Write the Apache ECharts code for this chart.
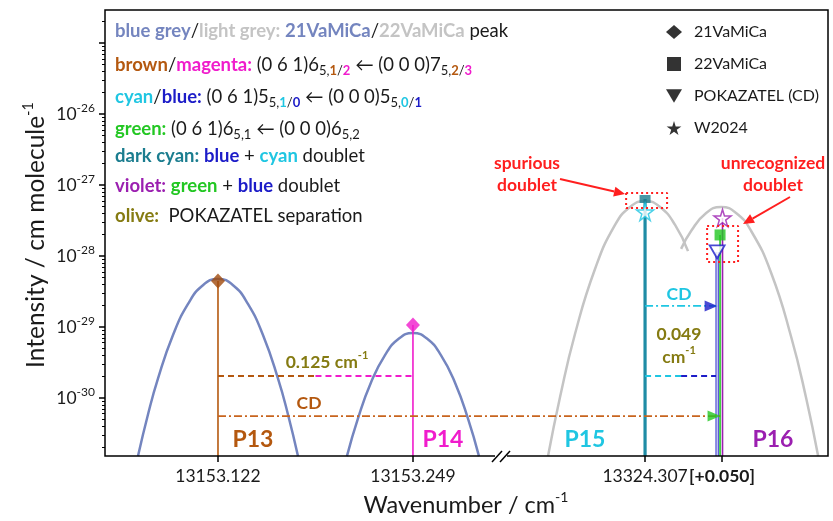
<!DOCTYPE html>
<html>
<head>
<meta charset="utf-8">
<script src="https://cdn.jsdelivr.net/npm/echarts@6/dist/echarts.min.js"></script>
<style>
html, body { margin: 0; padding: 0; background: #fff; }
#chart { width: 833px; height: 521px; }
</style>
</head>
<body>
<div id="chart"></div>
<script>
// ---------- axis ticks ----------
const leftTicks = [13153.122, 13153.249];
const leftTickLabels = ['13153.122', '13153.249'];
const rightTicks = [13324.307, 13324.357];
const rightTickLabels = ['13324.307', '[+0.050]'];
const decadeExponents = [-30, -29, -28, -27, -26, -25];
const labelledExponents = [-30, -29, -28, -27, -26];

// ---------- peak profiles [wavenumber, intensity] ----------
const p13Profile = [
  [13153.0699, 1.52e-31], [13153.0764, 5.86e-31], [13153.0829, 1.87e-30],
  [13153.0927, 7.71e-30], [13153.1025, 2.11e-29], [13153.1122, 3.88e-29],
  [13153.1220, 4.74e-29],
  [13153.1318, 3.88e-29], [13153.1415, 2.11e-29], [13153.1513, 7.71e-30],
  [13153.1611, 1.87e-30], [13153.1676, 5.86e-31], [13153.1741, 1.52e-31]
];
const p14Profile = [
  [13153.2060, 1.52e-31], [13153.2132, 5.16e-31], [13153.2216, 1.64e-30],
  [13153.2308, 4.02e-30], [13153.2399, 6.89e-30],
  [13153.2490, 8.22e-30],
  [13153.2581, 6.89e-30], [13153.2672, 4.02e-30], [13153.2764, 1.64e-30],
  [13153.2848, 5.16e-31], [13153.2920, 1.52e-31]
];
const p15Profile = [
  [13324.2440, 1.52e-31], [13324.2518, 1.03e-30], [13324.2615, 7.96e-30],
  [13324.2745, 6.57e-29], [13324.2875, 2.74e-28], [13324.2973, 4.90e-28],
  [13324.3070, 5.96e-28],
  [13324.3167, 4.90e-28], [13324.3265, 2.74e-28], [13324.3349, 1.17e-28]
];
const p16Profile = [
  [13324.3304, 1.26e-28], [13324.3369, 2.25e-28], [13324.3467, 4.04e-28],
  [13324.3564, 4.90e-28],
  [13324.3661, 4.04e-28], [13324.3759, 2.25e-28], [13324.3889, 5.77e-29],
  [13324.4019, 7.23e-30], [13324.4116, 1.00e-30], [13324.4194, 1.52e-31]
];

// ---------- line positions and intensities ----------
const vamica21 = [[13153.122, 4.45e-29], [13153.249, 1.07e-29]];   // P13, P14
const vamica22 = [[13324.307, 6.35e-28], [13324.3557, 1.98e-28]];  // P15, P16
const pokazatel = [[13324.3538, 1.14e-28]];                         // P16
const w2024 = [[13324.307, 4.17e-28], [13324.3573, 3.43e-28]];     // P15, P16

// ---------- separation / CD guide levels ----------
const separationLevel = 2.04e-30;
const cdLevelP13 = 5.57e-31;
const cdLevelP15 = 1.98e-29;

// ---------- doublet boxes [[x0, yTop], [x1, yBottom]] ----------
const doubletBoxes = [
  [[13324.2947, 7.71e-28], [13324.3213, 4.74e-28]],
  [[13324.3473, 2.65e-28], [13324.3674, 8.22e-29]]
];

// ---------- layout ----------
const X1 = [13153.0484, 13153.3057];
const X2 = [13324.2128, 13324.4258];
const Y = [1.524e-31, 2.917e-25];
const FRAME = { x: 105, y: 10, w: 723, h: 446 };
const SPLIT = 500;

const FONT = 'Lato, "Open Sans", sans-serif';
const C = {
  blueGrey: '#7485bf', lightGrey: '#c4c4c4', brown: '#b4580f', brownDark: '#a04a0c',
  magenta: '#f01ccc', cyan: '#1fc6e2', blue: '#1c1cc8', green: '#22c722',
  darkCyan: '#1b7d8f', violet: '#9b1fb0', olive: '#857b12', red: '#ff1f1f', ink: '#1a1a1a'
};
const STAR = 'path://M50,0 L61,35 L98,35 L68,57 L79,91 L50,70 L21,91 L32,57 L2,35 L39,35 Z';
const TRI_DOWN = 'path://M0,0 L20,0 L10,17 Z';
const SQUARE = 'path://M0,0 L10,0 L10,10 L0,10 Z';

// sub-decade tick positions (exponent units, drawn on a companion value axis)
const minorExponents = [];
for (let e = -31; e <= -25; e++) {
  for (let m = 2; m <= 9; m++) {
    const v = e + Math.log10(m);
    if (v > Math.log10(Y[0]) && v < Math.log10(Y[1])) minorExponents.push(v);
  }
}

// ---------- series ----------
const series = [];
function addLine(grid, data, color, width, type, z, smooth) {
  series.push({
    type: 'line', xAxisIndex: grid, yAxisIndex: grid === 0 ? 0 : 3,
    data: data, symbol: 'none', smooth: !!smooth, silent: true,
    lineStyle: { color: color, width: width, type: type || 'solid' }, z: z || 3
  });
}
const floor = (x) => [x, Y[0]];

// peak profiles
addLine(0, p13Profile, C.blueGrey, 2.5, 'solid', 2, true);
addLine(0, p14Profile, C.blueGrey, 2.5, 'solid', 2, true);
addLine(1, p15Profile, C.lightGrey, 2.5, 'solid', 2, true);
addLine(1, p16Profile, C.lightGrey, 2.5, 'solid', 2, true);

// sticks
addLine(0, [vamica21[0], floor(vamica21[0][0])], C.brown, 1.6);
addLine(0, [vamica21[1], floor(vamica21[1][0])], C.magenta, 1.6);
addLine(1, [vamica22[0], floor(vamica22[0][0])], '#1f8ca5', 3.2);
addLine(1, [pokazatel[0], floor(pokazatel[0][0])], C.blue, 3.2);
addLine(1, [pokazatel[0], floor(pokazatel[0][0])], '#ffffff', 1.2, 'solid', 3.1);
addLine(1, [vamica22[1], floor(vamica22[1][0])], C.green, 1.6);
addLine(1, [w2024[1], floor(w2024[1][0])], C.violet, 1.6);

// separation between P13 and P14
const midLeft = (vamica21[0][0] + vamica21[1][0]) / 2;
addLine(0, [[vamica21[0][0], separationLevel], [midLeft, separationLevel]], C.brown, 2, [6, 4]);
addLine(0, [[midLeft, separationLevel], [vamica21[1][0], separationLevel]], C.magenta, 2, [6, 4]);
// separation between P15 and P16 (POKAZATEL)
const midRight = (vamica22[0][0] + pokazatel[0][0]) / 2;
addLine(1, [[vamica22[0][0], separationLevel], [midRight, separationLevel]], C.cyan, 2, [6, 4]);
addLine(1, [[midRight, separationLevel], [pokazatel[0][0], separationLevel]], C.blue, 2, [6, 4]);

// CD guides
const dashDot = [8, 3, 2, 3];
addLine(0, [[vamica21[0][0], cdLevelP13], [X1[1], cdLevelP13]], '#c8641e', 1.8, dashDot);
addLine(1, [[X2[0], cdLevelP13], [vamica22[1][0], cdLevelP13]], '#c8641e', 1.8, dashDot);
addLine(1, [[vamica22[0][0], cdLevelP15], [pokazatel[0][0], cdLevelP15]], C.cyan, 1.8, dashDot);

// dotted boxes around the doublets
doubletBoxes.forEach(b => {
  const x0 = b[0][0], y0 = b[0][1], x1 = b[1][0], y1 = b[1][1];
  addLine(1, [[x0, y0], [x1, y0], [x1, y1], [x0, y1], [x0, y0]], C.red, 2, [2, 3], 8);
});

// arrow heads at the end of the CD guides
series.push({
  type: 'scatter', xAxisIndex: 1, yAxisIndex: 3, silent: true, z: 6,
  symbol: 'triangle', symbolSize: [11, 13], symbolRotate: -90, symbolOffset: [-6, 0],
  data: [
    { value: [vamica22[1][0], cdLevelP13], itemStyle: { color: C.green } },
    { value: [pokazatel[0][0], cdLevelP15], itemStyle: { color: C.blue } }
  ]
});

// markers
series.push({
  name: '21VaMiCa', type: 'scatter', xAxisIndex: 0, yAxisIndex: 0, silent: true, z: 6,
  symbol: 'diamond', symbolSize: [14, 15],
  data: [
    { value: vamica21[0], itemStyle: { color: C.brownDark } },
    { value: vamica21[1], itemStyle: { color: C.magenta } }
  ]
});
series.push({
  name: '22VaMiCa', type: 'scatter', xAxisIndex: 1, yAxisIndex: 3, silent: true, z: 6,
  symbol: 'rect',
  data: [
    { value: vamica22[0], symbolSize: [11, 8], itemStyle: { color: C.darkCyan } },
    { value: vamica22[1], symbolSize: [11, 11], itemStyle: { color: C.green } }
  ]
});
series.push({
  name: 'POKAZATEL (CD)', type: 'scatter', xAxisIndex: 1, yAxisIndex: 3, silent: true, z: 6,
  symbol: TRI_DOWN, symbolSize: [15, 13],
  itemStyle: { color: '#ffffff', borderColor: C.blue, borderWidth: 1.8 },
  data: pokazatel
});
series.push({
  name: 'W2024', type: 'scatter', xAxisIndex: 1, yAxisIndex: 3, silent: true, z: 7,
  symbol: STAR, symbolSize: 17,
  data: [
    { value: w2024[0], itemStyle: { color: '#ffffff', borderColor: C.cyan, borderWidth: 1.5 } },
    { value: w2024[1], itemStyle: { color: '#ffffff', borderColor: C.violet, borderWidth: 1.5 } }
  ]
});

// ---------- text helpers ----------
function bold(color, size, lh) {
  return { fill: color, color: color, fontSize: size || 16, fontWeight: 'bold', fontFamily: FONT, lineHeight: lh || 24 };
}
function plain(color, size, lh) {
  return { fill: color, color: color, fontSize: size || 16, fontFamily: FONT, lineHeight: lh || 24 };
}
function sub(color, isBold) {
  return { fill: color, color: color, fontSize: 13, fontWeight: isBold ? 'bold' : 'normal', fontFamily: FONT,
           lineHeight: 13, verticalAlign: 'bottom' };
}
function sup(color, size, isBold) {
  return { fill: color, color: color, fontSize: size || 11, fontWeight: isBold ? 'bold' : 'normal', fontFamily: FONT,
           lineHeight: size || 11, verticalAlign: 'top' };
}
const LS = 18.5;
const legendRich = {
  n: plain(C.ink, LS), bg: bold(C.blueGrey, LS), lg: bold(C.lightGrey, LS), br: bold(C.brown, LS), mg: bold(C.magenta, LS),
  cy: bold(C.cyan, LS), bl: bold(C.blue, LS), gr: bold(C.green, LS), dc: bold(C.darkCyan, LS), vi: bold(C.violet, LS),
  ol: bold(C.olive, LS),
  sn: sub(C.ink), sbr: sub(C.brown, true), smg: sub(C.magenta, true), scy: sub(C.cyan, true), sbl: sub(C.blue, true)
};
const rt = (frags) => frags.map(f => '{' + f[0] + '|' + f[1] + '}').join('');
function text(x, y, str, rich, align, extra) {
  return Object.assign({
    type: 'text', x: x, y: y, z: 20, silent: true,
    style: {
      text: str, rich: rich, font: '16px ' + FONT, fill: C.ink,
      align: align || 'left', verticalAlign: 'middle',
      textAlign: align || 'left', textVerticalAlign: 'middle'
    }
  }, extra || {});
}
function arrow(x0, y0, x1, y1, color) {
  const dx = x1 - x0, dy = y1 - y0, L = Math.hypot(dx, dy), ux = dx / L, uy = dy / L;
  const hl = 11, hw = 5;
  const bx = x1 - ux * hl, by = y1 - uy * hl;
  return [
    { type: 'line', z: 20, silent: true, shape: { x1: x0, y1: y0, x2: bx, y2: by }, style: { stroke: color, lineWidth: 2 } },
    { type: 'polygon', z: 20, silent: true,
      shape: { points: [[x1, y1], [bx - uy * hw, by + ux * hw], [bx + uy * hw, by - ux * hw]] }, style: { fill: color } }
  ];
}

const legendLines = [
  [['bg', 'blue grey'], ['n', '/'], ['lg', 'light grey:'], ['n', ' '], ['bg', '21VaMiCa'], ['n', '/'], ['lg', '22VaMiCa'], ['n', ' peak']],
  [['br', 'brown'], ['n', '/'], ['mg', 'magenta:'], ['n', ' (0 6 1)6'], ['sn', '5,'], ['sbr', '1'], ['sn', '/'], ['smg', '2'],
   ['n', ' \u2190 (0 0 0)7'], ['sn', '5,'], ['sbr', '2'], ['sn', '/'], ['smg', '3']],
  [['cy', 'cyan'], ['n', '/'], ['bl', 'blue:'], ['n', ' (0 6 1)5'], ['sn', '5,'], ['scy', '1'], ['sn', '/'], ['sbl', '0'],
   ['n', ' \u2190 (0 0 0)5'], ['sn', '5,'], ['scy', '0'], ['sn', '/'], ['sbl', '1']],
  [['gr', 'green:'], ['n', ' (0 6 1)6'], ['sn', '5,1'], ['n', ' \u2190 (0 0 0)6'], ['sn', '5,2']],
  [['dc', 'dark cyan:'], ['n', ' '], ['bl', 'blue'], ['n', ' + '], ['cy', 'cyan'], ['n', ' doublet']],
  [['vi', 'violet:'], ['n', ' '], ['gr', 'green'], ['n', ' + '], ['bl', 'blue'], ['n', ' doublet']],
  [['ol', 'olive:'], ['n', '  POKAZATEL separation']]
];
const legendRows = [31, 65, 97, 129, 156, 186, 216];

const annRich = {
  ol: bold(C.olive, 17.5), br: bold(C.brown, 17.5), cy: bold(C.cyan, 17.5),
  osup: sup(C.olive, 11, true), red: bold(C.red, 17.5),
  p13: bold(C.brown, 23), p14: bold(C.magenta, 23), p15: bold(C.cyan, 23), p16: bold(C.violet, 23),
  ax: plain(C.ink, 23.5, 30), axs: sup(C.ink, 14),
  ay: plain(C.ink, 24.5, 30), ays: sup(C.ink, 14.5)
};

const graphics = [];
legendLines.forEach((l, i) => graphics.push(text(115, legendRows[i], rt(l), legendRich)));
graphics.push(text(327, 362, '{ol|0.125 cm}{osup|-1}', annRich, 'center'));
graphics.push(text(309, 403, '{br|CD}', annRich, 'center'));
graphics.push(text(679, 294, '{cy|CD}', annRich, 'center'));
graphics.push(text(679, 334, '{ol|0.049}', annRich, 'center'));
graphics.push(text(679, 357, '{ol|cm}{osup|-1}', annRich, 'center'));
graphics.push(text(253, 440, '{p13|P13}', annRich, 'center'));
graphics.push(text(443, 440, '{p14|P14}', annRich, 'center'));
graphics.push(text(585, 440, '{p15|P15}', annRich, 'center'));
graphics.push(text(773, 440, '{p16|P16}', annRich, 'center'));
graphics.push(text(527, 163, '{red|spurious}', annRich, 'center'));
graphics.push(text(527, 185, '{red|doublet}', annRich, 'center'));
graphics.push(text(773, 163, '{red|unrecognized}', annRich, 'center'));
graphics.push(text(773, 185, '{red|doublet}', annRich, 'center'));
graphics.push(...arrow(560, 179, 625, 194, C.red));
graphics.push(...arrow(790, 197, 743, 224, C.red));
graphics.push(text(466, 505, '{ax|Wavenumber / cm}{axs|-1}', annRich, 'center'));
graphics.push(text(36, 235, '{ay|Intensity / cm molecule}{ays|-1}', annRich, 'center', { rotation: Math.PI / 2 }));

// plot frame and axis break
graphics.push({
  type: 'rect', z: 15, silent: true,
  shape: { x: FRAME.x, y: FRAME.y, width: FRAME.w, height: FRAME.h },
  style: { fill: 'none', stroke: '#000', lineWidth: 1.5 }
});
const by = FRAME.y + FRAME.h;
graphics.push({ type: 'rect', z: 16, silent: true, shape: { x: 495, y: by - 2, width: 12, height: 4 }, style: { fill: '#fff' } });
graphics.push({ type: 'line', z: 17, silent: true, shape: { x1: 492, y1: by + 6, x2: 502, y2: by - 5 }, style: { stroke: '#000', lineWidth: 1.5 } });
graphics.push({ type: 'line', z: 17, silent: true, shape: { x1: 500, y1: by + 6, x2: 510, y2: by - 5 }, style: { stroke: '#000', lineWidth: 1.5 } });

// ---------- axes ----------
function xAxis(grid, range, ticks, labels) {
  const nearest = (v) => {
    let best = 0;
    ticks.forEach((t, i) => { if (Math.abs(t - v) < Math.abs(ticks[best] - v)) best = i; });
    return best;
  };
  return {
    type: 'value', gridIndex: grid, min: range[0], max: range[1], position: 'bottom',
    axisLine: { show: false }, splitLine: { show: false },
    axisTick: { show: true, customValues: ticks, length: 6, lineStyle: { color: '#000', width: 1.5 } },
    axisLabel: {
      customValues: ticks, margin: 11,
      formatter: (v) => {
        const s = labels[nearest(v)];
        return s.charAt(0) === '[' ? '{b|' + s + '}' : '{n|' + s + '}';
      },
      rich: {
        n: { fontSize: 17.5, fontFamily: FONT, color: C.ink },
        b: { fontSize: 17.5, fontFamily: FONT, color: C.ink, fontWeight: 'bold' }
      }
    }
  };
}

const LOG_RANGE = [Math.log10(Y[0]), Math.log10(Y[1])];
const option = {
  animation: false,
  backgroundColor: '#fff',
  textStyle: { fontFamily: FONT },
  grid: [
    { left: FRAME.x, top: FRAME.y, width: SPLIT - FRAME.x, height: FRAME.h },
    { left: SPLIT, top: FRAME.y, width: FRAME.x + FRAME.w - SPLIT, height: FRAME.h }
  ],
  xAxis: [
    xAxis(0, X1, leftTicks, leftTickLabels),
    xAxis(1, X2, rightTicks, rightTickLabels)
  ],
  yAxis: [
    {
      // intensity axis (log scale) carrying the data of the left panel
      type: 'log', gridIndex: 0, min: Y[0], max: Y[1], position: 'left',
      axisLine: { show: false }, splitLine: { show: false }, axisTick: { show: false }, axisLabel: { show: false }
    },
    {
      // decade ticks and labels, in exponent units
      type: 'value', gridIndex: 0, min: LOG_RANGE[0], max: LOG_RANGE[1], position: 'left', offset: 0,
      axisLine: { show: false }, splitLine: { show: false },
      axisTick: { show: true, customValues: decadeExponents, length: 6, lineStyle: { color: '#000', width: 1.5 } },
      axisLabel: {
        customValues: decadeExponents, margin: 10,
        formatter: (v) => {
          const e = Math.round(v);
          return labelledExponents.indexOf(e) >= 0 ? '{b|10}{s|' + e + '}' : '';
        },
        rich: {
          b: { fontSize: 17.5, fontFamily: FONT, color: C.ink, lineHeight: 24 },
          s: { fontSize: 12, fontFamily: FONT, color: C.ink, lineHeight: 12, verticalAlign: 'top' }
        }
      }
    },
    {
      // sub-decade ticks
      type: 'value', gridIndex: 0, min: LOG_RANGE[0], max: LOG_RANGE[1], position: 'left', offset: 0,
      axisLine: { show: false }, splitLine: { show: false },
      axisTick: { show: true, customValues: minorExponents, length: 3, lineStyle: { color: '#000', width: 1 } },
      axisLabel: { show: false }
    },
    { type: 'log', gridIndex: 1, min: Y[0], max: Y[1], show: false }
  ],
  legend: {
    orient: 'vertical', left: 661, top: 18, itemWidth: 16, itemHeight: 14, itemGap: 14,
    selectedMode: false,
    textStyle: { fontFamily: FONT, fontSize: 16, color: C.ink, lineHeight: 18, padding: [0, 0, 0, 7] },
    data: [
      { name: '21VaMiCa', icon: 'diamond', itemStyle: { color: '#000', borderWidth: 0 } },
      { name: '22VaMiCa', icon: SQUARE, itemStyle: { color: '#000', borderWidth: 0 } },
      { name: 'POKAZATEL (CD)', icon: TRI_DOWN, itemStyle: { color: '#000', borderColor: '#000', borderWidth: 0 } },
      { name: 'W2024', icon: STAR, itemStyle: { color: '#000', borderColor: '#000', borderWidth: 0 } }
    ]
  },
  graphic: graphics,
  series: series
};

echarts.init(document.getElementById('chart')).setOption(option);
</script>
</body>
</html>
